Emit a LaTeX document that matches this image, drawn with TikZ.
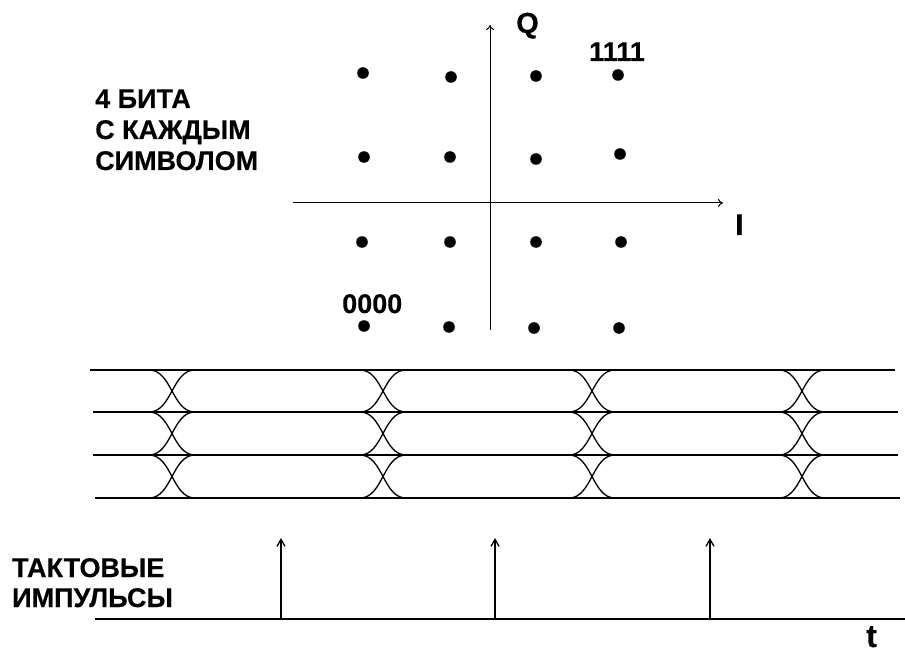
\documentclass[tikz,border=0pt]{standalone}
\usepackage{fontspec}
\setmainfont[BoldFeatures={FakeBold=0.4}]{Liberation Sans}
\usetikzlibrary{arrows.meta}
\begin{document}
\begin{tikzpicture}[x=1pt,y=-1pt,
  lbl/.style={inner sep=0pt, font=\bfseries\fontsize{27}{31}\selectfont, align=left},
  axis/.style={line width=1pt, -{To[length=5pt,width=8pt]}},
  eyeline/.style={line width=1.4pt},
  eyecurve/.style={line width=1.3pt},
  dot/.style={fill=black},
  clk/.style={line width=1.3pt, -{Straight Barb[length=7pt,width=8pt,line width=1.3pt]}},
  timeaxis/.style={line width=1.8pt}]
\useasboundingbox (0,0) rectangle (905,655);

% ---- constellation (16-QAM) ----
\coordinate (qbot) at (490,330);
\coordinate (qtop) at (490,25);
\coordinate (ileft) at (293,203);
\coordinate (iright) at (723,203);
\draw[axis] (qbot) -- (qtop);
\draw[axis] (ileft) -- (iright);
\node[lbl, anchor=base west, font=\bfseries\fontsize{29}{33}\selectfont] (qlab) at (516,33) {Q};
\node[lbl, anchor=base west, font=\bfseries\fontsize{30}{34}\selectfont] (ilab) at (735,235) {I};
\node[lbl, anchor=base west] (l1111) at (589,61) {1111};
\node[lbl, anchor=base west] (l0000) at (342,313) {0000};

\foreach \x/\y in {363/73, 451/77, 536/76, 618/75,
                   364/157, 450/157, 536/159, 620/154,
                   362/242, 450/242, 536/242, 621/242,
                   364/326, 449/327, 534/328, 619/328}
  \fill[dot] (\x,\y) circle (5.8pt);

\node[lbl, anchor=base west] (bits1) at (95,108) {4 БИТА};
\node[lbl, anchor=base west] (bits2) at (95,139) {С КАЖДЫМ};
\node[lbl, anchor=base west] (bits3) at (95,170) {СИМВОЛОМ};

% ---- eye diagram ----
\draw[eyeline] (90,370) -- (895,370);
\draw[eyeline] (93,412) -- (898,412);
\draw[eyeline] (93,455) -- (898,455);
\draw[eyeline] (95,498) -- (900,498);
\foreach \c in {172,383,592,802}{
  \foreach \ya/\yb in {370/412, 412/455, 455/498}{
    \draw[eyecurve] (\c-23,\ya) .. controls (\c,\ya) and (\c,\yb) .. (\c+23,\yb);
    \draw[eyecurve] (\c-23,\yb) .. controls (\c,\yb) and (\c,\ya) .. (\c+23,\ya);
  }
}

% ---- clock pulses ----
\coordinate (tstart) at (95,619);
\coordinate (tend) at (912,619);
\draw[timeaxis, -{To[length=5pt,width=8pt]}] (tstart) -- (tend);
\foreach \x in {281,495,710}{
  \coordinate (p\x) at (\x,619);
  \coordinate (q\x) at (\x,538);
  \draw[clk] (p\x) -- (q\x);
}
\node[lbl, anchor=base west] (clk1) at (12,577) {ТАКТОВЫЕ};
\node[lbl, anchor=base west] (clk2) at (12,607) {ИМПУЛЬСЫ};
\node[lbl, anchor=base west, font=\bfseries\fontsize{32}{36}\selectfont] (tlab) at (866,647) {t};
\end{tikzpicture}
\end{document}
